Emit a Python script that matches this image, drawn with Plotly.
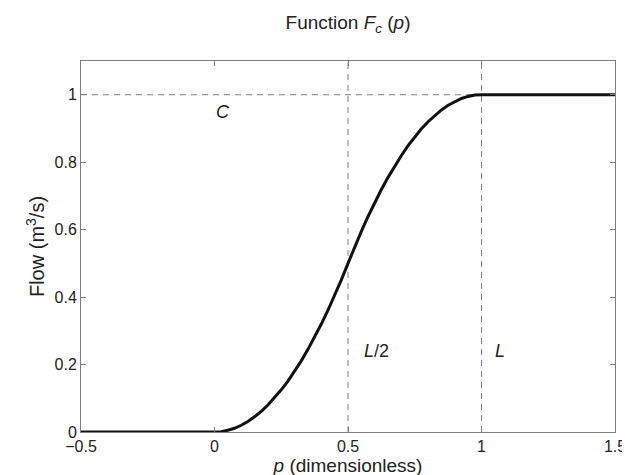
import plotly.graph_objects as go

# values
p = [-0.5, -0.25, 0.0, 0.025, 0.05, 0.075, 0.1, 0.125, 0.15, 0.175, 0.2, 0.225, 0.25,
     0.275, 0.3, 0.325, 0.35, 0.375, 0.4, 0.425, 0.45, 0.475, 0.5, 0.525, 0.55, 0.575,
     0.6, 0.625, 0.65, 0.675, 0.7, 0.725, 0.75, 0.775, 0.8, 0.825, 0.85, 0.875, 0.9,
     0.925, 0.95, 0.975, 1.0, 1.25, 1.5]
flow = [0, 0, 0, 0.001, 0.005, 0.011, 0.02, 0.031, 0.045, 0.061, 0.08, 0.101, 0.125,
        0.151, 0.18, 0.211, 0.245, 0.281, 0.32, 0.361, 0.405, 0.451, 0.5, 0.549, 0.595,
        0.639, 0.68, 0.719, 0.755, 0.789, 0.82, 0.849, 0.875, 0.899, 0.92, 0.939, 0.955,
        0.969, 0.98, 0.989, 0.995, 0.999, 1, 1, 1]

C = 1.0
L = 1.0
x_ticks = [-0.5, 0, 0.5, 1, 1.5]
x_labels = ["\u22120.5", "0", "0.5", "1", "1.5"]
y_ticks = [0, 0.2, 0.4, 0.6, 0.8, 1]
y_labels = ["0", "0.2", "0.4", "0.6", "0.8", "1"]
y_top = 1.1

font = "Liberation Sans, Arial, sans-serif"
grey = "#7f7f7f"

fig = go.Figure()

# dashed guides
fig.add_trace(go.Scatter(x=[x_ticks[0], L], y=[C, C], mode="lines",
                         line=dict(color=grey, width=1, dash="6px,5px"), hoverinfo="skip"))
for xv in [L / 2, L]:
    fig.add_trace(go.Scatter(x=[xv, xv], y=[0, y_top], mode="lines",
                             line=dict(color=grey, width=1, dash="6px,5px"), hoverinfo="skip"))

fig.add_trace(go.Scatter(x=p, y=flow, mode="lines", line=dict(color="#111111", width=3)))

notes = [(0.03, 0.95, "<i>C</i>"), (0.606, 0.24, "<i>L</i>/2"), (1.07, 0.24, "<i>L</i>")]
for nx, ny, txt in notes:
    fig.add_annotation(x=nx, y=ny, text=txt, showarrow=False,
                       font=dict(family=font, size=18, color="#222222"))

fig.update_layout(
    width=630, height=475,
    margin=dict(l=73, r=18, t=53, b=51),
    paper_bgcolor="white", plot_bgcolor="white",
    showlegend=False,
    font=dict(family=font, color="#222222"),
    title=dict(text="Function <i>F</i><sub><i>c</i></sub> (<i>p</i>)", x=0.5, xref="paper",
               xanchor="center", y=0.97, yanchor="middle", font=dict(size=19)),
)
fig.update_xaxes(range=[x_ticks[0], x_ticks[-1]], tickvals=x_ticks, ticktext=x_labels,
                 ticks="inside", ticklen=5, tickcolor=grey, showline=True, linecolor=grey,
                 linewidth=1, mirror="allticks", showgrid=False, zeroline=False,
                 tickfont=dict(size=16), title=dict(text="<i>p</i> (dimensionless)",
                 font=dict(size=19), standoff=0))
fig.update_yaxes(range=[0, y_top], tickvals=y_ticks, ticktext=y_labels,
                 ticks="inside", ticklen=5, tickcolor=grey, showline=True, linecolor=grey,
                 linewidth=1, mirror="allticks", showgrid=False, zeroline=False,
                 tickfont=dict(size=16), title=dict(text="Flow (m<sup>3</sup>/s)",
                 font=dict(size=20), standoff=4))

fig.write_html("out.html")
